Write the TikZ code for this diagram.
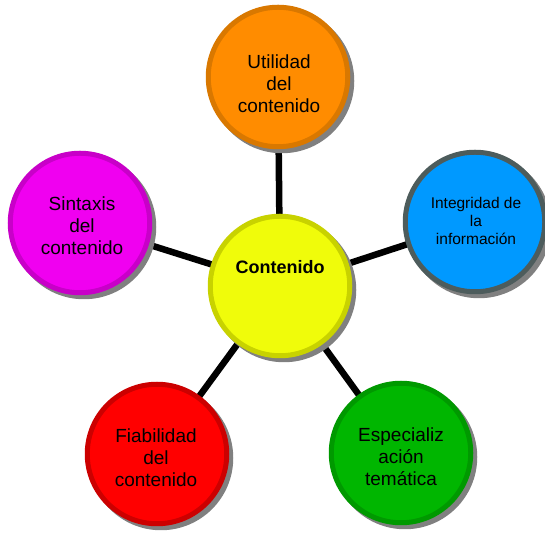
\documentclass[tikz,border=0pt]{standalone}
\usepackage{fontspec}
\setmainfont{Liberation Sans}
\usetikzlibrary{backgrounds}
\definecolor{shadowgray}{RGB}{128,128,128}
\definecolor{orfill}{RGB}{255,140,0}
\definecolor{ordraw}{RGB}{217,120,0}
\definecolor{yefill}{RGB}{240,252,10}
\definecolor{yedraw}{RGB}{200,210,0}
\definecolor{blfill}{RGB}{0,153,255}
\definecolor{bldraw}{RGB}{77,92,92}
\definecolor{grfill}{RGB}{0,182,0}
\definecolor{grdraw}{RGB}{0,153,0}
\definecolor{refill}{RGB}{255,0,0}
\definecolor{redraw}{RGB}{204,0,0}
\definecolor{mafill}{RGB}{240,0,240}
\definecolor{madraw}{RGB}{200,0,200}
\tikzset{
  bubble/.style n args={2}{circle, minimum size=139.5pt, inner sep=0pt,
    line width=5pt, draw=#2, fill=#1,
    preaction={draw=shadowgray, fill=shadowgray, line width=5pt,
      transform canvas={shift={(4pt,-4pt)}}}},
  btext/.style={align=center, text=black, inner sep=0pt,
    font=\fontsize{19}{22}\selectfont},
  stext/.style={align=center, text=black, inner sep=0pt,
    font=\fontsize{15.5}{18}\selectfont},
  spoke/.style={line width=6.5pt, black}
}
\begin{document}
\begin{tikzpicture}[x=1pt,y=1pt]
\useasboundingbox (0,0) rectangle (545,534);
% circles
\node[bubble={orfill}{ordraw}] (u) at (278,457) {};
\node[bubble={blfill}{bldraw}] (i) at (475,312) {};
\node[bubble={grfill}{grdraw}] (e) at (401,81) {};
\node[bubble={refill}{redraw}] (f) at (157,80) {};
\node[bubble={mafill}{madraw}] (s) at (80,311) {};
\node[bubble={yefill}{yedraw}] (c) at (280,248) {};
% texts
\node[btext] (ut) at (279,450) {Utilidad\\del\\contenido};
\node[stext] (it) at (476,313) {Integridad de\\la\\información};
\node[btext] (et) at (401,77) {Especializ\\ación\\temática};
\node[btext] (ft) at (156,76) {Fiabilidad\\del\\contenido};
\node[btext] (st) at (82,308) {Sintaxis\\del\\contenido};
\node[btext, font=\fontsize{18}{22}\selectfont\bfseries] (ct) at (280,267) {Contenido};
% spokes
\begin{scope}[on background layer]
\draw[spoke] (c.center) -- (u.center);
\draw[spoke] (c.center) -- (i.center);
\draw[spoke] (c.center) -- (e.center);
\draw[spoke] (c.center) -- (f.center);
\draw[spoke] (c.center) -- (s.center);
\end{scope}
\end{tikzpicture}
\end{document}
